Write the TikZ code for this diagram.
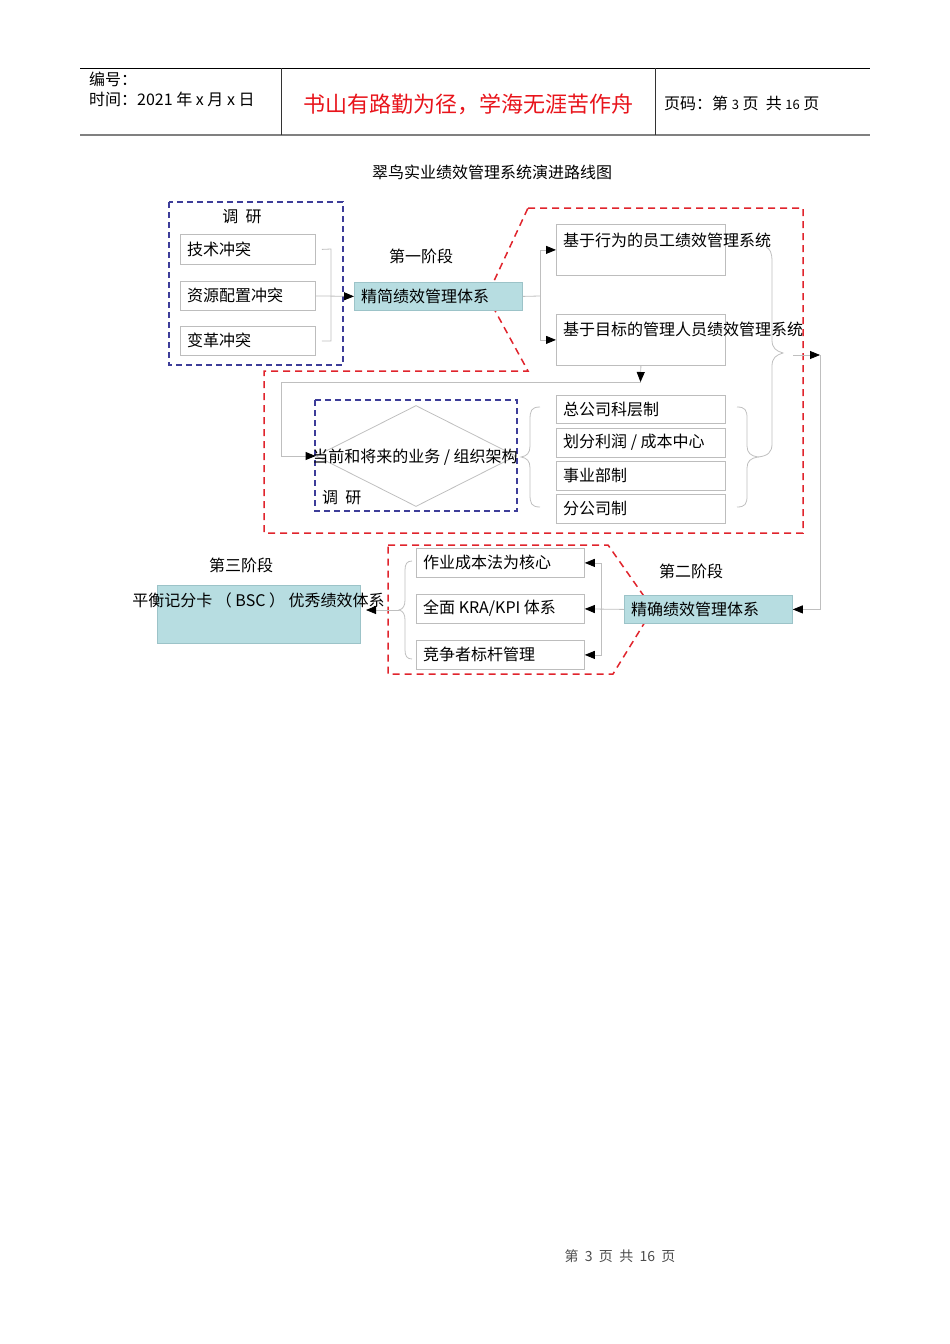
\documentclass[tikz,border=0pt]{standalone}
\usepackage{fontspec}
\setmainfont{Noto Sans CJK SC}
\usetikzlibrary{arrows.meta,shapes.geometric}
\definecolor{linegray}{HTML}{BFBFBF}
\definecolor{boxgray}{HTML}{BDBDBD}
\definecolor{tealfill}{HTML}{B7DDE1}
\definecolor{tealedge}{HTML}{9CC3C8}
\definecolor{dred}{HTML}{E0242C}
\definecolor{dblue}{HTML}{3D3D99}
\definecolor{hred}{HTML}{E8141B}
\newcommand\fsz[1]{\fontsize{#1}{#1}\selectfont}
\tikzset{
  gl/.style={draw=linegray, line width=0.8pt},
  box/.style={draw=boxgray, line width=0.8pt, inner sep=0pt, anchor=north west},
  tbox/.style={box, fill=tealfill, draw=tealedge},
  txt/.style={font=\fsz{16}, inner sep=0pt, anchor=west},
  ctxt/.style={font=\fsz{16}, inner sep=0pt},
  arr/.style={-{Triangle[length=10pt,width=8pt,color=black]}},
  reddash/.style={draw=dred, line width=1.5pt, dash pattern=on 7pt off 5pt},
  bluedash/.style={draw=dblue, line width=1.5pt, dash pattern=on 6pt off 4pt},
}
\begin{document}
\begin{tikzpicture}[x=1pt,y=-1pt]
\useasboundingbox (0,0) rectangle (950,1344);
% header
\draw[black, line width=0.8pt] (80,68) -- (870,68);
\draw[gray, line width=1.5pt] (80,135) -- (870,135);
\draw[black!80, line width=0.8pt] (281,68) -- (281,135);
\draw[black!80, line width=0.8pt] (655,68) -- (655,135);
\node[txt, font=\fsz{16}] (h1) at (89,79) {编号：};
\node[txt, font=\fsz{16}] (h2) at (89,99) {时间：2021 年 x 月 x 日};
\node[ctxt, font=\fsz{22}, text=hred] (h3) at (468,104) {书山有路勤为径，学海无涯苦作舟};
\node[txt, font=\fsz{16}] (h4) at (664,103) {页码：第 {\fsz{13}3} 页\ \ 共 {\fsz{13}16} 页};
% title
\node[ctxt, font=\fsz{16}] (title) at (492,172) {翠鸟实业绩效管理系统演进路线图};

% red dashed groups (behind boxes)
\draw[reddash] (528,208) -- (803,208) -- (803,533) -- (264,533) -- (264,371) -- (528,371) -- (487,296) -- cycle;
\draw[reddash] (388,545) -- (608,545) -- (653,609) -- (613,674) -- (388,674) -- cycle;

% research box 1
\draw[bluedash] (169,202) rectangle (343,365);
\node[ctxt] (r1) at (242,217) {调\ \ 研};
\node[box, minimum width=135pt, minimum height=30pt] (c1) at (180,234) {};
\node[txt] (c1t) at (187,249) {技术冲突};
\node[box, minimum width=135pt, minimum height=29pt] (c2) at (180,281) {};
\node[txt] (c2t) at (187,295.5) {资源配置冲突};
\node[box, minimum width=135pt, minimum height=29pt] (c3) at (180,326) {};
\node[txt] (c3t) at (187,340.5) {变革冲突};
\draw[gl] ([xshift=6pt]c1.east) -- (331,249) |- ([xshift=6pt]c3.east);

% stage 1
\node[ctxt] (s1) at (421,256) {第一阶段};
\node[tbox, minimum width=168pt, minimum height=28pt] (p1) at (354,282) {};
\node[txt] (p1t) at (361,296) {精简绩效管理体系};
\draw[gl,arr] (c2.east) -- (p1.west);

\node[box, minimum width=169pt, minimum height=51pt] (b1) at (556,224) {};
\node[txt] (b1t) at (563,240) {基于行为的员工绩效管理系统};
\node[box, minimum width=169pt, minimum height=51pt] (b2) at (556,314) {};
\node[txt] (b2t) at (563,329) {基于目标的管理人员绩效管理系统};
\coordinate (j1) at (540,296);
\draw[gl] (p1.east) -- (j1);
\draw[gl,arr] (j1) |- (b1.west);
\draw[gl,arr] (j1) |- (b2.west);

% structure part
\coordinate (j2) at (640.5,382);
\draw[gl,arr] (b2.south) -- (j2);
\draw[bluedash] (315,400) rectangle (517,511);
\node[diamond, draw=linegray, line width=0.8pt, minimum width=200pt, minimum height=101pt, inner sep=0pt] (dia) at (416,456) {};
\draw[gl,arr] (j2) -- (281,382) -- (281,456) -- (dia.west);
\node[ctxt] (diat) at (415,457) {当前和将来的业务 / 组织架构};
\node[txt] (r2) at (322,498) {调\ \ 研};

\node[box, minimum width=169pt, minimum height=28pt] (o1) at (556,395) {};
\node[txt] (o1t) at (563,409) {总公司科层制};
\node[box, minimum width=169pt, minimum height=29pt] (o2) at (556,428) {};
\node[txt] (o2t) at (563,442.5) {划分利润 / 成本中心};
\node[box, minimum width=169pt, minimum height=29pt] (o3) at (556,461) {};
\node[txt] (o3t) at (563,475.5) {事业部制};
\node[box, minimum width=169pt, minimum height=29pt] (o4) at (556,494) {};
\node[txt] (o4t) at (563,508.5) {分公司制};

% braces
\draw[gl] (540,407) .. controls (531,407) and (530,411) .. (530,420) -- (530,446)
  .. controls (530,453) and (527,456) .. (521,457) .. controls (527,458) and (530,461) .. (530,468)
  -- (530,494) .. controls (530,503) and (531,507) .. (540,507);
\draw[gl] (737,407) .. controls (745,407) and (747,410) .. (747,418) -- (747,446)
  .. controls (747,453) and (751,456) .. (758,457) .. controls (751,458) and (747,461) .. (747,468)
  -- (747,496) .. controls (747,504) and (745,507) .. (737,507);
\draw[gl] (766,247) .. controls (770,249) and (772,252) .. (772,262) -- (772,340)
  .. controls (772,348) and (776,351) .. (783,353) .. controls (776,355) and (772,358) .. (772,366)
  -- (772,444) .. controls (772,452) and (768,456) .. (758,457);

% to stage 2
\coordinate (bt) at (793,355);
\coordinate (j3) at (820,355);
\draw[gl,arr] (bt) -- (j3);
\node[ctxt] (s2) at (691,571) {第二阶段};
\node[tbox, minimum width=168pt, minimum height=28pt] (p2) at (624,595) {};
\node[txt] (p2t) at (631,609) {精确绩效管理体系};
\draw[gl,arr] (j3) |- (p2.east);

\node[box, minimum width=168pt, minimum height=29pt] (k1) at (416,548) {};
\node[txt] (k1t) at (423,562.5) {作业成本法为核心};
\node[box, minimum width=168pt, minimum height=29pt] (k2) at (416,594) {};
\node[txt] (k2t) at (423,608.5) {全面 KRA/KPI 体系};
\node[box, minimum width=168pt, minimum height=29pt] (k3) at (416,640) {};
\node[txt] (k3t) at (423,654.5) {竞争者标杆管理};
\draw[gl,arr] (p2.west) -- (k2.east);
\coordinate (j4) at (601,608.5);
\draw[gl,arr] (j4) |- (k1.east);
\draw[gl,arr] (j4) |- (k3.east);

\draw[gl] (412,561) .. controls (407,561) and (405,564) .. (405,570) -- (405,600)
  .. controls (405,606) and (403,609) .. (399,610) .. controls (403,611) and (405,614) .. (405,620)
  -- (405,650) .. controls (405,656) and (407,659) .. (412,659);

% stage 3
\node[ctxt] (s3) at (241,565) {第三阶段};
\node[tbox, minimum width=203pt, minimum height=58pt] (p3) at (157,585) {};
\node[ctxt] (p3t) at (258.5,600) {平衡记分卡 （ BSC ） 优秀绩效体系};
\coordinate (bt2) at (399,610);
\coordinate (p3a) at (366,610);
\draw[gl,arr] (bt2) -- (p3a);

% footer
\node[ctxt, font=\fsz{14}, text=black!70] (foot) at (620,1256) {第\ \ 3\ \ 页\ \ 共\ \ 16\ \ 页};
\end{tikzpicture}
\end{document}
